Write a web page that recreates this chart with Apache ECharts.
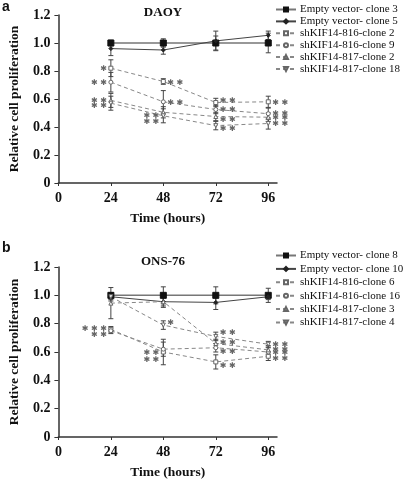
<!DOCTYPE html>
<html><head><meta charset="utf-8">
<script src="https://cdn.jsdelivr.net/npm/echarts@6/dist/echarts.min.js"></script>
<style>html,body{margin:0;padding:0;background:#fff}#c{width:404px;height:481px}</style>
</head><body><div id="c"></div>
<script>
const hours = [24, 48, 72, 96];
const xTicks = [0, 24, 48, 72, 96];

// Panel a (DAOY)
const aNames = ['Empty vector- clone 3','Empty vector- clone 5','shKIF14-816-clone 2','shKIF14-816-clone 9','shKIF14-817-clone 2','shKIF14-817-clone 18'];
const aEV3 = [1.00, 1.00, 1.00, 1.00];      const aEV3Err = [0.02, 0.03, 0.05, 0.07];
const aEV5 = [0.96, 0.95, 1.015, 1.055];    const aEV5Err = [0.05, 0.03, 0.07, 0.03];
const a816c2 = [0.82, 0.725, 0.575, 0.58];  const a816c2Err = [0.06, 0.02, 0.03, 0.04];
const a816c9 = [0.72, 0.58, 0.525, 0.495];  const a816c9Err = [0.07, 0.08, 0.03, 0.04];
const a817c2 = [0.59, 0.505, 0.475, 0.47];  const a817c2Err = [0.05, 0.04, 0.03, 0.03];
const a817c18 = [0.57, 0.48, 0.41, 0.425];  const a817c18Err = [0.05, 0.05, 0.03, 0.04];
const aStars = [[24,0.825,'*','L'],[24,0.72,'**','L'],[24,0.595,'**','L'],[24,0.56,'**','L'],
  [48,0.725,'**','R'],[48,0.58,'**','R'],[48,0.485,'**','L'],[48,0.445,'**','L'],
  [72,0.59,'**','R'],[72,0.53,'**','R'],[72,0.455,'**','R'],[72,0.395,'**','R'],
  [96,0.58,'**','R'],[96,0.50,'**','R'],[96,0.475,'**','R'],[96,0.43,'**','R']];

// Panel b (ONS-76)
const bNames = ['Empty vector- clone 8','Empty vector- clone 10','shKIF14-816-clone 6','shKIF14-816-clone 16','shKIF14-817-clone 3','shKIF14-817-clone 4'];
const bEV8 = [1.00, 1.00, 1.00, 1.00];      const bEV8Err = [0.02, 0.06, 0.06, 0.05];
const bEV10 = [0.99, 0.955, 0.95, 0.99];    const bEV10Err = [0.02, 0.04, 0.05, 0.02];
const b816c6 = [0.76, 0.60, 0.53, 0.57];    const b816c6Err = [0.02, 0.09, 0.05, 0.03];
const b816c16 = [0.75, 0.62, 0.63, 0.60];   const b816c16Err = [0.02, 0.05, 0.03, 0.03];
const b817c3 = [0.945, 0.955, 0.66, 0.615]; const b817c3Err = [0.11, 0.03, 0.03, 0.03];
const b817c4 = [0.99, 0.79, 0.71, 0.655];   const b817c4Err = [0.03, 0.03, 0.03, 0.02];
const bStars = [[24,0.77,'***','L'],[24,0.73,'**','L'],[48,0.81,'*','R'],[48,0.60,'**','L'],[48,0.55,'**','L'],
  [72,0.74,'**','R'],[72,0.67,'**','R'],[72,0.61,'**','R'],[72,0.51,'**','R'],
  [96,0.66,'**','R'],[96,0.625,'**','R'],[96,0.60,'**','R'],[96,0.56,'**','R']];

const INV_TRI = 'path://M0,0 L10,0 L5,9 Z';
const styles = [
  {symbol:'rect', size:6, fill:'#111', stroke:'#111', line:'#777', width:1.5, type:'solid'},
  {symbol:'diamond', size:4, fill:'#222', stroke:'#222', line:'#444', width:1, type:'solid'},
  {symbol:'rect', size:4, fill:'#fff', stroke:'#666', line:'#888', width:1, type:[4,3]},
  {symbol:'circle', size:4, fill:'#fff', stroke:'#666', line:'#888', width:1, type:[4,3]},
  {symbol:'triangle', size:4, fill:'#fff', stroke:'#666', line:'#888', width:1, type:[4,3]},
  {symbol:INV_TRI, size:4, fill:'#fff', stroke:'#666', line:'#888', width:1, type:[4,3]}
];

const serif = 'Liberation Serif';
const series = [];
function addPanel(idx, names, vals, errs, stars) {
  vals.forEach((v, i) => {
    const s = styles[i];
    series.push({
      type:'line', name:names[i], xAxisIndex:idx, yAxisIndex:idx,
      data: hours.map((h, k) => [h, v[k]]),
      symbol:s.symbol, symbolSize:s.size, showAllSymbol:true,
      lineStyle:{color:s.line, width:s.width, type:s.type},
      itemStyle:{color:s.fill, borderColor:s.stroke, borderWidth:1},
      z: 3, animation:false
    });
    series.push({
      type:'custom', xAxisIndex:idx, yAxisIndex:idx, z:2, animation:false, silent:true,
      data: hours.map((h, k) => [h, v[k], errs[i][k]]),
      renderItem: (p, api) => {
        const x = api.value(0), y = api.value(1), e = api.value(2);
        const t = api.coord([x, y + e]), b = api.coord([x, y - e]);
        const st = {stroke:'#444', lineWidth:1};
        return {type:'group', children:[
          {type:'line', shape:{x1:t[0], y1:t[1], x2:b[0], y2:b[1]}, style:st},
          {type:'line', shape:{x1:t[0]-2.5, y1:t[1], x2:t[0]+2.5, y2:t[1]}, style:st},
          {type:'line', shape:{x1:b[0]-2.5, y1:b[1], x2:b[0]+2.5, y2:b[1]}, style:st}
        ]};
      }
    });
  });
  series.push({
    type:'custom', xAxisIndex:idx, yAxisIndex:idx, z:4, animation:false, silent:true,
    data: stars,
    renderItem: (p, api) => {
      const d = stars[p.dataIndex];
      const c = api.coord([d[0], d[1]]);
      const left = d[3] === 'L';
      return {type:'text', x: c[0] + (left ? -4 : 4), y: c[1] + 1,
        style:{text:d[2].replace(/\*/g,'\u2731 ').trim(), fill:'#666', font:'8px "DejaVu Sans"',
          textAlign: left ? 'right' : 'left', textVerticalAlign:'middle'}};
    }
  });
}
addPanel(0, aNames, [aEV3, aEV5, a816c2, a816c9, a817c2, a817c18], [aEV3Err, aEV5Err, a816c2Err, a816c9Err, a817c2Err, a817c18Err], aStars);
addPanel(1, bNames, [bEV8, bEV10, b816c6, b816c16, b817c3, b817c4], [bEV8Err, bEV10Err, b816c6Err, b816c16Err, b817c3Err, b817c4Err], bStars);

const axisFont = {fontFamily:serif, fontWeight:'bold', fontSize:14, color:'#111'};
function xAxis(i) {
  return {type:'value', gridIndex:i, min:0, max:100,
    axisLine:{lineStyle:{color:'#333', width:1.5}},
    axisTick:{customValues:xTicks, length:3, lineStyle:{color:'#333'}},
    axisLabel:Object.assign({customValues:xTicks, margin:8}, axisFont),
    splitLine:{show:false},
    name:'Time (hours)', nameLocation:'middle', nameGap:29,
    nameTextStyle:{fontFamily:serif, fontWeight:'bold', fontSize:13.5, color:'#111'}};
}
function yAxis(i) {
  return {type:'value', gridIndex:i, min:0, max:1.2, interval:0.2,
    axisLine:{show:true, lineStyle:{color:'#333', width:1.5}},
    axisTick:{show:true, length:4, lineStyle:{color:'#333'}},
    axisLabel:Object.assign({margin:8, formatter: v => v === 0 ? '0' : v.toFixed(1)}, axisFont),
    splitLine:{show:false},
    name:'Relative cell proliferation', nameLocation:'middle', nameGap:35,
    nameTextStyle:{fontFamily:serif, fontWeight:'bold', fontSize:13.5, color:'#111'}};
}
function legend(i, names, top, gap) {
  return {data:names, orient:'vertical', left:275, top:top, padding:0, itemWidth:20, itemHeight:5, itemGap:gap,
    textStyle:{fontFamily:serif, fontSize:11, color:'#111', padding:[0,0,0,-1]}, selectedMode:false};
}

const chart = echarts.init(document.getElementById('c'), null, {renderer:'canvas'});
chart.setOption({
  backgroundColor:'#fff',
  animation:false,
  grid:[{left:51, top:15, width:226, height:168}, {left:51, top:267, width:226, height:170}],
  xAxis:[xAxis(0), xAxis(1)],
  yAxis:[yAxis(0), yAxis(1)],
  legend:[legend(0, aNames, 4, 0.9), legend(1, bNames, 250, 2.4)],
  series: series,
  graphic:[
    {type:'text', left:2, top:0, style:{text:'a', font:'bold 14px "Liberation Sans"', fill:'#111'}},
    {type:'text', left:2, top:241, style:{text:'b', font:'bold 14px "Liberation Sans"', fill:'#111'}},
    {type:'text', x:163, y:13, style:{text:'DAOY', font:'bold 13px "Liberation Serif"', fill:'#111', textAlign:'center', textVerticalAlign:'middle'}},
    {type:'text', x:163, y:262, style:{text:'ONS-76', font:'bold 13px "Liberation Serif"', fill:'#111', textAlign:'center', textVerticalAlign:'middle'}}
  ]
});
</script></body></html>
